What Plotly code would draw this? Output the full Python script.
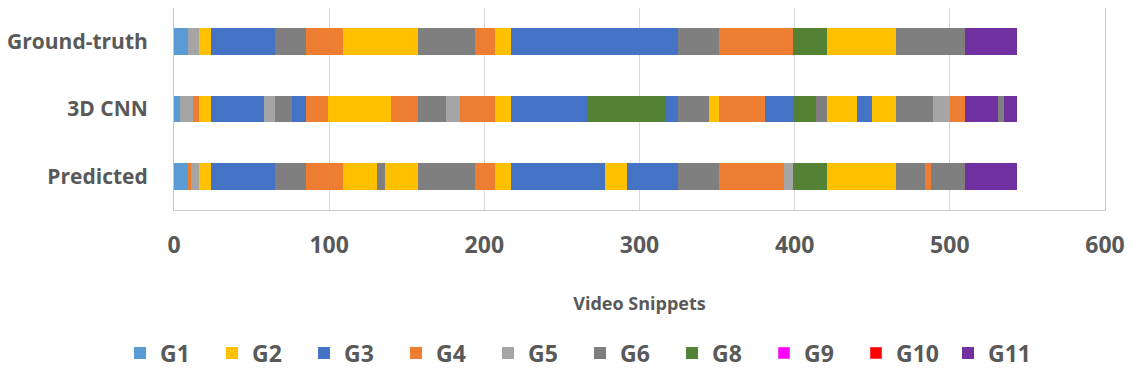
import plotly.graph_objs as go

rows = ['Ground-truth', '3D CNN', 'Predicted']

# segment groups and lengths (in snippets), left to right
gt_groups = ['G1', 'G5', 'G2', 'G3', 'G6', 'G4', 'G2', 'G6', 'G4', 'G2', 'G3', 'G6', 'G4', 'G8', 'G2', 'G6', 'G11']
gt_lengths = [9, 7, 8, 41, 20, 24, 48, 37, 13, 10, 108, 26, 48, 22, 44, 45, 33]

cnn_groups = ['G1', 'G5', 'G4', 'G2', 'G3', 'G5', 'G6', 'G3', 'G4', 'G2', 'G4', 'G6', 'G5', 'G4', 'G2', 'G3', 'G8',
              'G3', 'G6', 'G2', 'G4', 'G3', 'G8', 'G6', 'G2', 'G3', 'G2', 'G6', 'G5', 'G4', 'G11', 'G6', 'G11']
cnn_lengths = [4, 8, 4, 8, 34, 7, 11, 9, 14, 41, 17, 18, 9, 23, 10, 50, 50,
               8, 20, 6, 30, 18, 15, 7, 19, 10, 15, 24, 11, 10, 21, 4, 8]

pred_groups = ['G1', 'G4', 'G5', 'G2', 'G3', 'G6', 'G4', 'G2', 'G6', 'G2', 'G6', 'G4', 'G2', 'G3', 'G2', 'G3',
               'G6', 'G4', 'G5', 'G8', 'G2', 'G6', 'G4', 'G6', 'G11']
pred_lengths = [9, 2, 5, 8, 41, 20, 24, 22, 5, 21, 37, 13, 10, 61, 14, 33,
                26, 42, 6, 22, 44, 19, 4, 22, 33]

legend_groups = ['G1', 'G2', 'G3', 'G4', 'G5', 'G6', 'G8', 'G9', 'G10', 'G11']
colors = {'G1': '#5B9BD5', 'G2': '#FFC000', 'G3': '#4472C4', 'G4': '#ED7D31', 'G5': '#A5A5A5',
          'G6': '#7F7F7F', 'G8': '#548235', 'G9': '#FF00FF', 'G10': '#FF0000', 'G11': '#7030A0'}

fig = go.Figure()
shown = set()
for row, groups, lengths in [(rows[0], gt_groups, gt_lengths),
                             (rows[1], cnn_groups, cnn_lengths),
                             (rows[2], pred_groups, pred_lengths)]:
    for g, n in zip(groups, lengths):
        fig.add_trace(go.Bar(
            x=[n], y=[row], orientation='h', name='<b>%s</b>' % g,
            marker_color=colors[g], marker_line_width=0,
            legendgroup=g, legendrank=legend_groups.index(g) + 1,
            showlegend=g not in shown, hoverinfo='name+x'))
        shown.add(g)

# groups with no segments still get a legend entry
for g in legend_groups:
    if g not in shown:
        fig.add_trace(go.Bar(x=[None], y=[rows[0]], orientation='h', name='<b>%s</b>' % g,
                             marker_color=colors[g], legendgroup=g,
                             legendrank=legend_groups.index(g) + 1))

fig.update_xaxes(
    range=[0, 600], tickvals=list(range(0, 700, 100)),
    ticktext=['<b>%d</b>' % v for v in range(0, 700, 100)],
    showgrid=True, gridcolor='#D9D9D9', zeroline=False,
    showline=True, linecolor='#C8C8C8', mirror=True, automargin=False,
    tickfont=dict(size=23, color='#595959', family='Open Sans'),
    ticklabelstandoff=14,
    title=dict(text='<b>Video Snippets</b>', font=dict(size=18, color='#595959'), standoff=38)
)
fig.update_yaxes(
    categoryorder='array', categoryarray=rows[::-1],
    tickvals=rows[::-1], ticktext=['<b>%s</b>' % r for r in rows[::-1]],
    showgrid=False, showline=True, linecolor='#C8C8C8', mirror=True, automargin=False,
    tickfont=dict(size=21, color='#595959', family='Open Sans'),
    ticklabelstandoff=21
)
# the page body adds 8px offset, so margins are shifted to compensate
fig.update_layout(
    width=1136, height=375,
    barmode='stack', bargap=0.6,
    font_family='Open Sans',
    margin=dict(l=166, r=39, t=0, b=173),
    paper_bgcolor='white', plot_bgcolor='white',
    legend=dict(orientation='h', x=-0.058, xanchor='left', y=-0.708, yanchor='middle',
                font=dict(size=23, color='#595959'), traceorder='normal',
                itemwidth=30, entrywidth=47),
)

fig.write_html("out.html")
